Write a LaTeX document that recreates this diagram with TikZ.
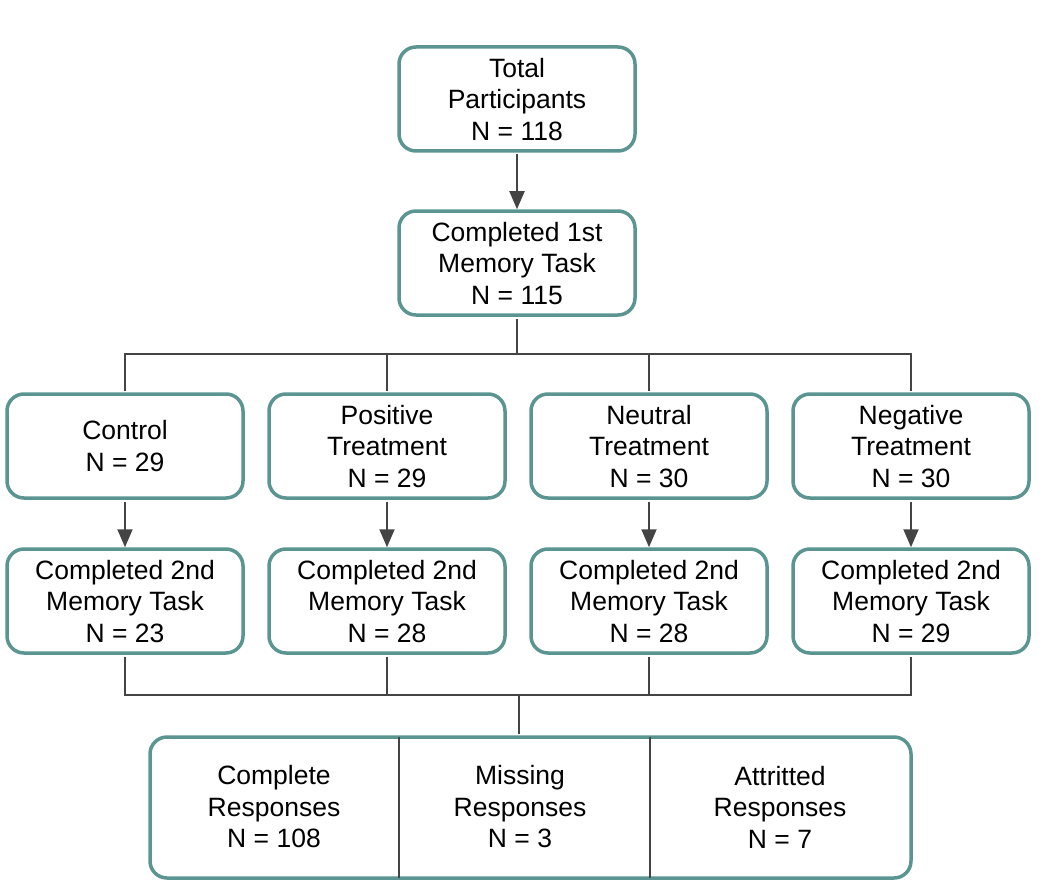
\documentclass[tikz,border=0pt]{standalone}
\usepackage{fontspec}
\setmainfont{Liberation Sans}
\usetikzlibrary{arrows.meta}
\definecolor{boxc}{RGB}{91,149,146}
\definecolor{linec}{RGB}{68,68,68}
\begin{document}
\begin{tikzpicture}[x=1pt,y=-1pt,
  box/.style={draw=boxc, line width=3.5pt, rounded corners=17pt, fill=white,
    minimum width=236pt, minimum height=104pt, align=center, inner sep=0pt,
    text depth=-4pt, font=\fontsize{26.5}{31.5}\selectfont},
  lbl/.style={align=center, inner sep=0pt, font=\fontsize{26.5}{31.5}\selectfont},
  conn/.style={draw=linec, line width=2pt},
  arr/.style={conn, -{Triangle[length=18pt,width=15pt]}}]
\useasboundingbox (0,0) rectangle (1046,896);

\node[box] (tot) at (517,99) {Total\\Participants\\N = 118};
\node[box] (m1) at (517,263) {Completed 1st\\Memory Task\\N = 115};

\node[box] (g1) at (125,446) {Control\\N = 29};
\node[box] (g2) at (387,446) {Positive\\Treatment\\N = 29};
\node[box] (g3) at (649,446) {Neutral\\Treatment\\N = 30};
\node[box] (g4) at (911,446) {Negative\\Treatment\\N = 30};

\node[box] (t1) at (125,601) {Completed 2nd\\Memory Task\\N = 23};
\node[box] (t2) at (387,601) {Completed 2nd\\Memory Task\\N = 28};
\node[box] (t3) at (649,601) {Completed 2nd\\Memory Task\\N = 28};
\node[box] (t4) at (911,601) {Completed 2nd\\Memory Task\\N = 29};

\node[box, minimum width=761pt, minimum height=141pt] (bot) at (530.5,807.5) {};
\coordinate (d1) at (399,807.5);
\coordinate (d2) at (650,807.5);
\draw[conn, line width=1.6pt, shorten <=1.75pt, shorten >=1.75pt] (d1 |- bot.north) -- (d1 |- bot.south);
\draw[conn, line width=1.6pt, shorten <=1.75pt, shorten >=1.75pt] (d2 |- bot.north) -- (d2 |- bot.south);
\node[lbl] (r1) at (274,807) {Complete\\Responses\\N = 108};
\node[lbl] (r2) at (520,807) {Missing\\Responses\\N = 3};
\node[lbl] (r3) at (780,807) {Attritted\\Responses\\N = 7};

\draw[arr, shorten <=1.75pt] (tot.south) -- (m1.north);
\draw[arr, shorten <=1.75pt] (g1.south) -- (t1.north);
\draw[arr, shorten <=1.75pt] (g2.south) -- (t2.north);
\draw[arr, shorten <=1.75pt] (g3.south) -- (t3.north);
\draw[arr, shorten <=1.75pt] (g4.south) -- (t4.north);

\coordinate (j1) at (517,354);
\draw[conn, shorten <=1.75pt] (m1.south) -- (j1);
\foreach \g in {g1,g2,g3,g4} {\draw[conn, shorten <=1.75pt] (\g.north) |- (j1);}

\coordinate (j2) at (519,695);
\foreach \t in {t1,t2,t3,t4} {\draw[conn, shorten <=1.75pt] (\t.south) |- (j2);}
\draw[conn, shorten >=1.75pt] (j2) -- (j2 |- bot.north);
\end{tikzpicture}
\end{document}
